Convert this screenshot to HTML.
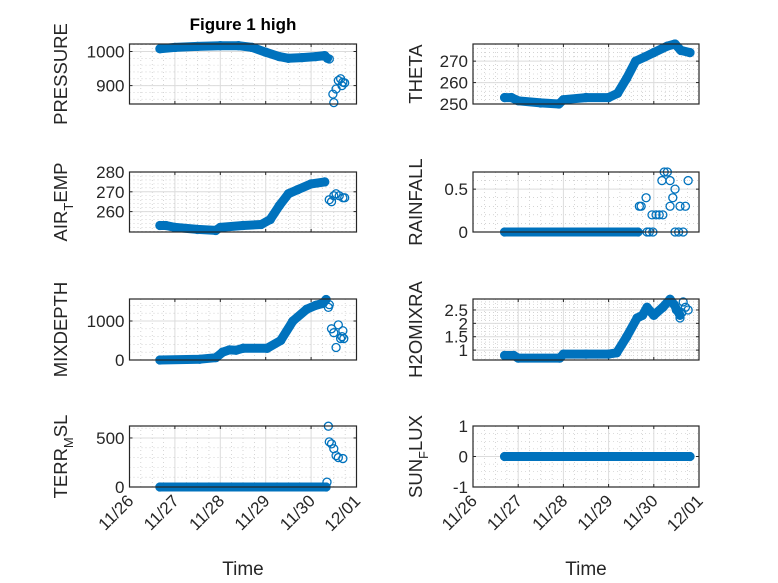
<!DOCTYPE html>
<html><head><meta charset="utf-8"><style>
body{margin:0;background:#fff;}
svg{display:block;font-family:"Liberation Sans","DejaVu Sans",sans-serif;}
</style></head><body>
<svg id="fig" width="778" height="583" viewBox="0 0 778 583">
<rect width="778" height="583" fill="#fff"/>
<text x="243" y="30" text-anchor="middle" font-size="17" font-weight="bold" fill="#000">Figure 1 high</text>
</svg>
<script>
// ---- data (t = days since 11/26) ----
const xTickLabels = ["11/26","11/27","11/28","11/29","11/30","12/01"];
const pressureT = [0.67,1.0,1.5,2.0,2.4,2.7,3.0,3.3,3.5,3.8,4.1,4.3,4.36];
const pressureV = [1008,1012,1015,1017,1017,1012,998,985,980,982,985,988,980];
const pressureOutT = [4.4,4.48,4.5,4.55,4.6,4.65,4.7,4.74,4.68];
const pressureOutV = [978,875,850,890,915,920,910,908,900];
const thetaT = [0.7,0.85,1.0,1.5,1.9,2.0,2.5,3.0,3.2,3.4,3.6,3.8,4.0,4.3,4.47,4.6,4.8];
const thetaV = [253,253,251.5,250.5,250,252,253,253,255,262,270,272,274,277,278,275,274];
const airT = [0.67,0.8,1.0,1.5,1.9,2.0,2.5,2.9,3.1,3.3,3.5,3.7,4.0,4.3];
const airV = [253,253,252,251,250.5,252,253,253.5,256,263,269,271,274,275];
const airOutT = [4.4,4.45,4.5,4.55,4.62,4.7,4.74];
const airOutV = [266,265,268,269,268,267,267];
const rainT = [0.7,3.65];
const rainV = [0,0];
const rainOutT = [3.68,3.72,3.83,3.85,3.9,3.98,3.96,4.05,4.12,4.2,4.18,4.23,4.3,4.36,4.36,4.42,4.47,4.47,4.55,4.65,4.58,4.7,4.76];
const rainOutV = [0.3,0.3,0.4,0,0,0,0.2,0.2,0.2,0.2,0.6,0.7,0.7,0.6,0.3,0.4,0.5,0,0,0,0.3,0.3,0.6];
const mixT = [0.67,1.55,1.9,2.05,2.2,2.35,2.5,3.03,3.33,3.6,3.9,4.1,4.26,4.33];
const mixV = [0,20,60,200,260,250,300,300,500,1000,1300,1400,1450,1550];
const mixOutT = [4.38,4.4,4.45,4.5,4.55,4.6,4.65,4.7,4.72,4.68];
const mixOutV = [1350,1420,800,700,320,900,550,750,550,600];
const h2oT = [0.7,0.9,1.0,1.92,2.0,2.5,3.0,3.18,3.4,3.63,3.75,3.85,4.0,4.2,4.36,4.45,4.58];
const h2oV = [0.8,0.8,0.7,0.7,0.85,0.85,0.85,0.9,1.5,2.2,2.3,2.6,2.3,2.6,2.9,2.7,2.3];
const h2oOutT = [4.5,4.58,4.65,4.7,4.76,4.62];
const h2oOutV = [2.5,2.2,2.8,2.6,2.5,2.4];
const terrT = [0.67,4.33];
const terrV = [0,0];
const terrOutT = [4.35,4.38,4.4,4.45,4.5,4.55,4.6,4.7];
const terrOutV = [50,620,460,440,390,320,300,290];
const sunT = [0.7,4.8];
const sunV = [0,0];

const NS="http://www.w3.org/2000/svg";
const svg=document.getElementById('fig');
function mk(tag,attrs,parent){const e=document.createElementNS(NS,tag);for(const k in attrs)e.setAttribute(k,attrs[k]);(parent||svg).appendChild(e);return e;}
const BLUE="#0072BD";

const panels=[
 {name:"pressure",x0:129.5,x1:356.5,y0:44,y1:104,ymin:846,ymax:1022,ticks:[900,1000],minor:20,label:["PRESSURE"],lx:60,T:pressureT,V:pressureV,OT:pressureOutT,OV:pressureOutV},
 {name:"theta",x0:473,x1:699,y0:44,y1:104,ymin:250,ymax:278,ticks:[250,260,270],minor:2,label:["THETA"],lx:415,T:thetaT,V:thetaV},
 {name:"air-temp",x0:129.5,x1:356.5,y0:172,y1:232,ymin:249.7,ymax:280,ticks:[260,270,280],minor:2,label:["AIR","T","EMP"],lx:60,T:airT,V:airV,OT:airOutT,OV:airOutV},
 {name:"rainfall",x0:473,x1:699,y0:172,y1:232,ymin:0,ymax:0.7,ticks:[0,0.5],minor:0.1,label:["RAINFALL"],lx:415,T:rainT,V:rainV,OT:rainOutT,OV:rainOutV},
 {name:"mixdepth",x0:129.5,x1:356.5,y0:299,y1:360,ymin:0,ymax:1564,ticks:[0,1000],minor:200,label:["MIXDEPTH"],lx:60,T:mixT,V:mixV,OT:mixOutT,OV:mixOutV},
 {name:"h2o-mixratio",x0:473,x1:699,y0:299,y1:360,ymin:0.63,ymax:2.91,ticks:[1,1.5,2,2.5],minor:0.1,label:["H2OMIXRA"],lx:415,T:h2oT,V:h2oV,OT:h2oOutT,OV:h2oOutV},
 {name:"terr-msl",x0:129.5,x1:356.5,y0:426,y1:487,ymin:0,ymax:622,ticks:[0,500],minor:100,label:["TERR","M","SL"],lx:60,T:terrT,V:terrV,OT:terrOutT,OV:terrOutV,xt:true},
 {name:"sun-flux",x0:473,x1:699,y0:426,y1:487,ymin:-1,ymax:1,ticks:[-1,0,1],minor:0.25,label:["SUN","F","LUX"],lx:415,T:sunT,V:sunV,xt:true}
];

panels.forEach(p=>{
 const g=mk('g',{});
 
 
 const sx=t=>p.x0+(p.x1-p.x0)*t/5;
 const sy=v=>p.y1-(p.y1-p.y0)*(v-p.ymin)/(p.ymax-p.ymin);
 for(let t=0.25;t<5;t+=0.25){ if(Math.abs(t-Math.round(t))<1e-6)continue;
   mk('line',{x1:sx(t),x2:sx(t),y1:p.y0,y2:p.y1,stroke:"#bbb","stroke-width":0.6,"stroke-dasharray":"1 3"},g);}
 const start=Math.ceil(p.ymin/p.minor)*p.minor;
 for(let v=start;v<=p.ymax+1e-9;v+=p.minor){
   mk('line',{x1:p.x0,x2:p.x1,y1:sy(v),y2:sy(v),stroke:"#bbb","stroke-width":0.6,"stroke-dasharray":"1 3"},g);}
 for(let d=1;d<5;d++) mk('line',{x1:sx(d),x2:sx(d),y1:p.y0,y2:p.y1,stroke:"#dcdcdc","stroke-width":1},g);
 p.ticks.forEach(v=>{mk('line',{x1:p.x0,x2:p.x1,y1:sy(v),y2:sy(v),stroke:"#dcdcdc","stroke-width":1},g);
   const tl=mk('text',{x:p.x0-5,y:sy(v)+6,"text-anchor":"end","font-size":17,fill:"#262626"},g);tl.textContent=String(v);
   
   
   mk('line',{x1:p.x0,x2:p.x0+3,y1:sy(v),y2:sy(v),stroke:"#262626"},g);
   mk('line',{x1:p.x1,x2:p.x1-3,y1:sy(v),y2:sy(v),stroke:"#262626"},g);});
 for(let d=1;d<5;d++){mk('line',{x1:sx(d),x2:sx(d),y1:p.y1,y2:p.y1-3,stroke:"#262626"},g);mk('line',{x1:sx(d),x2:sx(d),y1:p.y0,y2:p.y0+3,stroke:"#262626"},g);}
 let d="";p.T.forEach((t,i)=>{d+=(i?"L":"M")+sx(t).toFixed(1)+","+sy(p.V[i]).toFixed(1);});
 const band=mk('path',{d:d,fill:"none",stroke:BLUE,"stroke-width":9,"stroke-linejoin":"round","stroke-linecap":"round"},g);
 
 
 p.T.forEach((t,i)=>{const c=mk('circle',{cx:sx(t),cy:sy(p.V[i]),r:4,fill:"none",stroke:BLUE,"stroke-width":1.3},g);
   
   });
 if(p.OT)p.OT.forEach((t,i)=>{const c=mk('circle',{cx:sx(t),cy:sy(p.OV[i]),r:4,fill:"none",stroke:BLUE,"stroke-width":1.3},g);
   
   });
 mk('rect',{x:p.x0,y:p.y0,width:p.x1-p.x0,height:p.y1-p.y0,fill:"none",stroke:"#262626","stroke-width":1.2},g);
 const cy=(p.y0+p.y1)/2;
 const yl=mk('text',{x:0,y:0,transform:`translate(${p.lx+7},${cy}) rotate(-90)`,"text-anchor":"middle","font-size":18.5,fill:"#262626"},g);
 
 
 if(p.label.length===1){yl.textContent=p.label[0];}
 else{const a=mk('tspan',{},yl);a.textContent=p.label[0];
   const b=mk('tspan',{dy:6,"font-size":13},yl);b.textContent=p.label[1];
   const c=mk('tspan',{dy:-6},yl);c.textContent=p.label[2];}
 if(p.xt){
  xTickLabels.forEach((s,i)=>{const x=sx(i),y=p.y1+10;
   const t=mk('text',{x:0,y:0,transform:`translate(${x+5},${y+5}) rotate(-45)`,"text-anchor":"end","font-size":17,fill:"#262626"},g);t.textContent=s;
   
   });
  const xl=mk('text',{x:(p.x0+p.x1)/2,y:575,"text-anchor":"middle","font-size":19,fill:"#262626"},g);xl.textContent="Time";
  
  
 }
});
</script>
</body></html>
